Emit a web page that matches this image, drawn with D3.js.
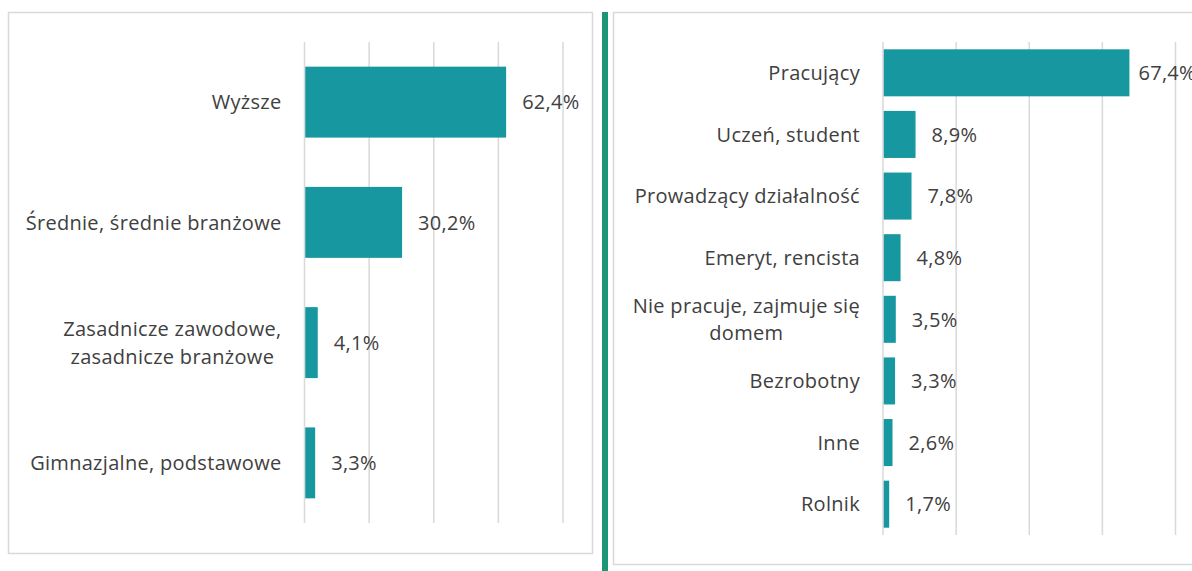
<!DOCTYPE html>
<html lang="pl">
<head>
<meta charset="utf-8">
<script src="https://cdn.jsdelivr.net/npm/d3@7"></script>
<style>
  html, body { margin: 0; padding: 0; background: #fff; }
  svg { display: block; }
  text { font-family: "Open Sans", "Noto Sans", sans-serif; fill: #404040; letter-spacing: 0.3px; }
</style>
</head>
<body>
<svg id="chart" width="1192" height="571"></svg>
<script>
// Wykształcenie (left panel)
const educationCategories = [
  ["Wyższe"],
  ["Średnie, średnie branżowe"],
  ["Zasadnicze zawodowe,", "zasadnicze branżowe"],
  ["Gimnazjalne, podstawowe"]
];
const educationValues = [62.4, 30.2, 4.1, 3.3];

// Status zawodowy (right panel)
const statusCategories = [
  ["Pracujący"],
  ["Uczeń, student"],
  ["Prowadzący działalność"],
  ["Emeryt, rencista"],
  ["Nie pracuje, zajmuje się", "domem"],
  ["Bezrobotny"],
  ["Inne"],
  ["Rolnik"]
];
const statusValues = [67.4, 8.9, 7.8, 4.8, 3.5, 3.3, 2.6, 1.7];

const tickValues = [0, 20, 40, 60, 80];

const BAR = "#1797a0";
const GRID = "#d9d9d9";
const FONT_SIZE = 20;

const svg = d3.select("#chart");
const fmt = v => d3.format(".1f")(v).replace(".", ",") + "%";

// panel frames and divider
svg.append("rect").attr("x", 8.5).attr("y", 12.5).attr("width", 584).attr("height", 541)
  .attr("fill", "none").attr("stroke", GRID).attr("stroke-width", 1.5);
svg.append("rect").attr("x", 613.5).attr("y", 12.5).attr("width", 620).attr("height", 552)
  .attr("fill", "none").attr("stroke", GRID).attr("stroke-width", 1.5);
svg.append("rect").attr("x", 602).attr("y", 12).attr("width", 6).attr("height", 559)
  .attr("fill", "#1a9677");

function drawPanel(cfg) {
  const { categories, values, xRange, yRange, padding, nudge } = cfg;
  const keys = categories.map(c => c.join(" "));
  const x = d3.scaleLinear().domain([0, 80]).range(xRange);
  const y = d3.scaleBand().domain(keys).range(yRange)
    .paddingInner(padding).paddingOuter(padding / 2);
  const g = svg.append("g");

  // vertical gridlines
  g.selectAll("line.grid").data(tickValues).join("line")
    .attr("class", "grid")
    .attr("x1", d => x(d)).attr("x2", d => x(d))
    .attr("y1", yRange[0]).attr("y2", yRange[1])
    .attr("stroke", GRID).attr("stroke-width", 1.5);

  // bars
  g.selectAll("rect.bar").data(values).join("rect")
    .attr("class", "bar")
    .attr("x", x(0) + 0.75)
    .attr("y", (d, i) => y(keys[i]))
    .attr("width", d => x(d) - x(0) - 0.75)
    .attr("height", y.bandwidth())
    .attr("fill", BAR);

  // value labels
  g.selectAll("text.val").data(values).join("text")
    .attr("class", "val")
    .attr("x", (d, i) => x(d) + (nudge[i] ?? 16))
    .attr("y", (d, i) => y(keys[i]) + y.bandwidth() / 2)
    .attr("dy", "0.36em")
    .style("font-size", FONT_SIZE + "px")
    .text(fmt);

  // category labels, right aligned block, multi-line centred within it
  const right = x(0) - 23;
  const lineH = 27.5;
  categories.forEach((lines, i) => {
    const cy = y(keys[i]) + y.bandwidth() / 2;
    const t = g.append("text")
      .style("font-size", FONT_SIZE + "px");
    lines.forEach((ln, j) => {
      t.append("tspan").text(ln)
        .attr("y", cy + (j - (lines.length - 1) / 2) * lineH)
        .attr("dy", "0.36em");
    });
    if (lines.length === 1) {
      t.attr("text-anchor", "end").selectAll("tspan").attr("x", right);
    } else {
      const w = d3.max(t.selectAll("tspan").nodes(), n => n.getComputedTextLength());
      t.attr("text-anchor", "middle").selectAll("tspan").attr("x", right - w / 2);
    }
  });
}

drawPanel({
  categories: educationCategories,
  values: educationValues,
  xRange: [304.5, 563],
  yRange: [42, 523],
  padding: 0.41,
  nudge: {}
});

drawPanel({
  categories: statusCategories,
  values: statusValues,
  xRange: [883, 1175.5],
  yRange: [42, 535],
  padding: 0.237,
  nudge: { 0: 9 }
});
</script>
</body>
</html>
